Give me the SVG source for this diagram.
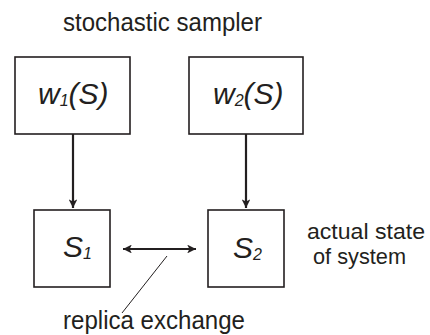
<svg xmlns="http://www.w3.org/2000/svg" width="430" height="335" viewBox="0 0 430 335">
<defs>
<marker id="ah" viewBox="0 0 10 10" refX="10" refY="5" markerWidth="4.5" markerHeight="4" orient="auto-start-reverse" markerUnits="strokeWidth">
<path d="M0,0 L10,5 L0,10 L2.5,5 Z" fill="#231f20"/>
</marker>
</defs>
<style>
.box{fill:#fff;stroke:#231f20;stroke-width:1.6}
.lbl{font-family:"Liberation Sans",Arial,sans-serif;fill:#231f20}
.it{font-style:italic}
.conn{stroke:#231f20;stroke-width:2.2;fill:none}
</style>
<rect width="430" height="335" fill="#fff"/>
<text class="lbl" x="63" y="31" font-size="25" textLength="199" lengthAdjust="spacingAndGlyphs">stochastic sampler</text>
<g id="w1">
<rect class="box" x="15" y="57" width="115" height="77"/>
<text class="lbl it" x="38" y="104" font-size="30">w<tspan font-size="16" dy="1.5">1</tspan><tspan dy="-1.5">(S)</tspan></text>
</g>
<g id="w2">
<rect class="box" x="189" y="57" width="114" height="77"/>
<text class="lbl it" x="213" y="104" font-size="30">w<tspan font-size="16" dy="1.5">2</tspan><tspan dy="-1.5">(S)</tspan></text>
</g>
<g id="s1">
<rect class="box" x="34" y="210" width="76" height="77"/>
<text class="lbl it" x="63" y="257" font-size="30">S<tspan font-size="16" dy="1.5">1</tspan></text>
</g>
<g id="s2">
<rect class="box" x="208" y="210" width="76" height="77"/>
<text class="lbl it" x="233" y="258" font-size="30">S<tspan font-size="16" dy="1.5">2</tspan></text>
</g>
<text class="lbl" x="307" y="239" font-size="22" textLength="118" lengthAdjust="spacingAndGlyphs">actual state</text>
<text class="lbl" x="313" y="264" font-size="22" textLength="93" lengthAdjust="spacingAndGlyphs">of system</text>
<text class="lbl" x="63" y="329" font-size="25" textLength="182" lengthAdjust="spacingAndGlyphs">replica exchange</text>
<g id="connectors">
<line class="conn" x1="73" y1="134" x2="73" y2="208" marker-end="url(#ah)"/>
<line class="conn" x1="246" y1="134" x2="246" y2="208" marker-end="url(#ah)"/>
<line class="conn" x1="123" y1="249" x2="196" y2="249" marker-start="url(#ah)" marker-end="url(#ah)"/>
<line stroke="#231f20" stroke-width="1" x1="167" y1="256" x2="122" y2="313"/>
</g>
</svg>
